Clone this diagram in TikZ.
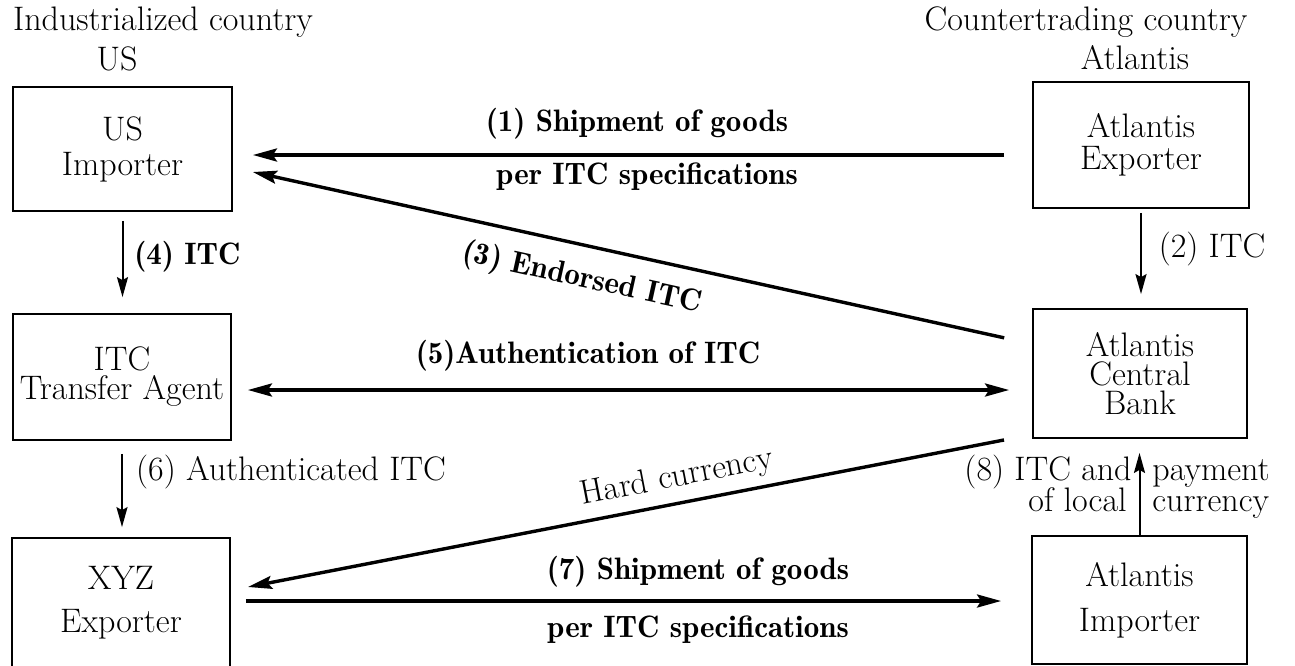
\documentclass[tikz,border=0pt]{standalone}
\usetikzlibrary{arrows.meta}
\newcommand\lblfont{\fontsize{17}{19}\selectfont}
\newcommand\demifont{\fontsize{15.5}{18}\fontseries{b}\selectfont}
\tikzset{
  box/.style={draw, line width=0.9pt, inner sep=0pt, align=center},
  txt/.style={inner sep=0pt, font=\lblfont},
  btxt/.style={inner sep=0pt, font=\demifont},
  flow/.style={line width=1.7pt, -{Stealth[length=12pt,width=6.5pt,inset=2pt]}},
  both/.style={line width=1.7pt, {Stealth[length=12pt,width=6.5pt,inset=2pt]}-{Stealth[length=12pt,width=6.5pt,inset=2pt]}},
  vflow/.style={line width=1pt, -{Stealth[length=10pt,width=5.5pt,inset=1.5pt]}}
}
\begin{document}
\begin{tikzpicture}[x=0.5pt, y=-0.5pt]
\useasboundingbox (0,0) rectangle (1295,665);

% headings of the two sides
\node[txt] (hleft)  at (163,22)  {Industrialized country};
\node[txt] (hleftb) at (117,59)  {US};
\node[txt] (hright) at (1086,22) {Countertrading country};
\node[txt] (hrightb) at (1135,58) {Atlantis};

% parties
\node[box, minimum width=109.5pt, minimum height=62pt,
      font=\fontsize{17}{17.5}\selectfont] (usimp) at (122.5,149) {US\\Importer};
\node[box, minimum width=109pt, minimum height=63pt,
      font=\fontsize{17}{14.5}\selectfont] (itc) at (122,377) {ITC\\Transfer Agent};
\node[box, minimum width=109pt, minimum height=65pt,
      font=\fontsize{17}{21.5}\selectfont] (xyz) at (121,603) {XYZ\\Exporter};
\node[box, minimum width=108pt, minimum height=63pt,
      font=\fontsize{17}{16}\selectfont] (atexp) at (1141,145) {Atlantis\\Exporter};
\node[box, minimum width=107pt, minimum height=64.5pt,
      font=\fontsize{17}{14.5}\selectfont] (acb) at (1140,373.5) {Atlantis\\Central\\Bank};
\node[box, minimum width=107.5pt, minimum height=64pt,
      font=\fontsize{17}{22.5}\selectfont] (atimp) at (1139.5,600) {Atlantis\\Importer};

% flows between the parties
\draw[flow, shorten <=14pt, shorten >=10pt]
  ([yshift=-5pt]atexp.west) -- ([yshift=-3pt]usimp.east);
\draw[flow, shorten <=14.3pt, shorten >=10.2pt]
  ([yshift=14.75pt]acb.west) -- ([yshift=-9.3pt]usimp.east);
\draw[both, shorten <=8pt, shorten >=11.5pt]
  ([yshift=-6.5pt]itc.east) -- ([yshift=-8.25pt]acb.west);
\draw[flow, shorten <=14.3pt, shorten >=8.7pt]
  ([yshift=-30.5pt]acb.west) -- ([yshift=6.35pt]xyz.east);
\draw[flow, shorten <=7.5pt, shorten >=15pt]
  ([yshift=1pt]xyz.east) -- ([yshift=-0.5pt]atimp.west);

\draw[vflow, shorten <=4.5pt, shorten >=8pt] (usimp.south) -- (usimp.south |- itc.north);
\draw[vflow, shorten <=2pt, shorten >=7pt] (atexp.south) -- (atexp.south |- acb.north);
\draw[vflow, shorten <=6.5pt, shorten >=5pt] (itc.south) -- (itc.south |- xyz.north);
\draw[vflow, shorten >=7pt] (atimp.north) -- (atimp.north |- acb.south);

% flow labels
\node[btxt] (l1)  at (637,124) {(1) Shipment of goods};
\node[btxt] (l1b) at (647,177) {per ITC specifications};
\node[txt]  (l2)  at (1212,249) {(2) ITC};
\node[btxt, rotate=-12.4] (l3) at (582,279) {(3) Endorsed ITC};
\node[btxt] (l4)  at (187.5,257) {(4) ITC};
\node[btxt] (l5)  at (588,356) {(5)Authentication of ITC};
\node[txt]  (l6)  at (291,472) {(6) Authenticated ITC};
\node[txt, rotate=11] (lhard) at (677,478) {Hard currency};
\node[btxt] (l7)  at (698,572) {(7) Shipment of goods};
\node[btxt] (l7b) at (698,630) {per ITC specifications};
\node[txt, anchor=base east] (l8a) at (1132,480) {(8) ITC and};
\node[txt, anchor=base east] (l8b) at (1127,511) {of local};
\node[txt, anchor=base west] (l8c) at (1152,480) {payment};
\node[txt, anchor=base west] (l8d) at (1152,511) {currency};
\end{tikzpicture}
\end{document}
